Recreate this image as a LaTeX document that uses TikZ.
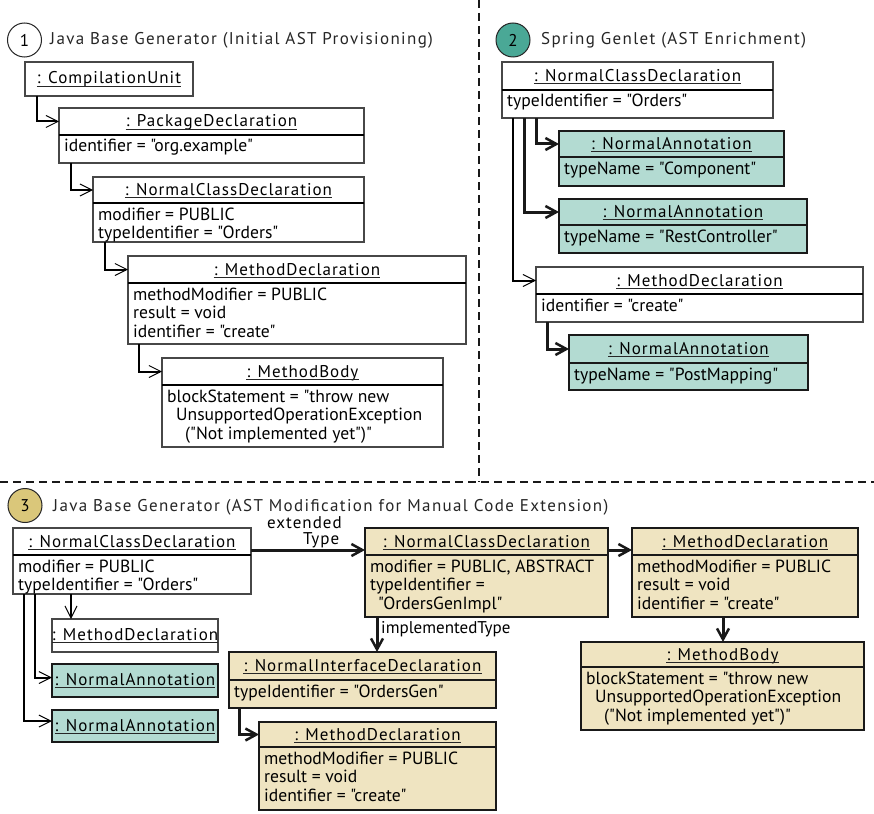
\documentclass[tikz,border=0pt]{standalone}
\usepackage{fontspec}
\setmainfont{PT Sans}[Ligatures=TeXOff]
\newfontfamily\hdrfont{PT Sans}[LetterSpace=6,Ligatures=TeXOff]
\newfontfamily\titlefont{PT Sans}[LetterSpace=8,Ligatures=TeXOff]
\usetikzlibrary{arrows.meta}
\definecolor{tealfill}{RGB}{179,219,210}
\definecolor{tanfill}{RGB}{239,228,193}
\definecolor{tealdark}{RGB}{74,168,150}
\definecolor{tandark}{RGB}{218,199,122}
\tikzset{
  objplain/.style={draw=black!72, line width=1.2pt, fill=white, inner sep=0pt, outer sep=0pt},
  objteal/.style={draw=black!90, line width=2pt, fill=tealfill, inner sep=0pt, outer sep=0pt},
  objtan/.style={draw=black!90, line width=2pt, fill=tanfill, inner sep=0pt, outer sep=0pt},
  sepobjplain/.style={line width=2pt, black},
  sepobjteal/.style={line width=2.5pt, black!90},
  sepobjtan/.style={line width=2.5pt, black!90},
  hdrtxt/.style={anchor=base, inner sep=0pt, font=\hdrfont\fontsize{17}{18.5}\selectfont},
  bodytxt/.style={anchor=base west, inner sep=0pt, font=\fontsize{17.6}{18.5}\selectfont},
  uline/.style={line width=0.9pt, black!85},
  titletxt/.style={anchor=base west, inner sep=0pt, font=\titlefont\fontsize{17}{18.5}\selectfont, black!85},
  lbltxt/.style={anchor=base west, inner sep=0pt, font=\fontsize{17}{18.5}\selectfont},
  numcircle/.style={circle, draw=black!85, line width=1pt, minimum size=34pt, inner sep=0pt, font=\fontsize{17}{18.5}\selectfont},
  medconn/.style={line width=2pt, black, -{Straight Barb[length=12pt,width=12pt,line width=1pt]}},
  thickconn/.style={line width=3pt, black!90, -{Straight Barb[length=11pt,width=12pt,line width=2.5pt]}},
  dashline/.style={line width=2pt, black!90, dash pattern=on 8pt off 5pt},
}
% name, style, x1, y1, x2, ysep, y2, header, body
\newcommand\umlbox[9]{%
  \node[#2, anchor=north west, minimum width={(#5-#3)*1pt}, minimum height={(#7-#4)*1pt}] (#1) at (#3,#4) {};
  \draw[sep#2] (#3,#6) -- (#5,#6);
  \coordinate (#1-h) at (#3,{(#4+#6)/2});
  \coordinate (#1-s) at (#3,#6);
  \coordinate (#1-se) at (#5,#6);
  \node[hdrtxt] (#1-t) at ({(#3+#5)/2},{(#4+#6)/2+5.5}) {#8\hspace{12pt}};
  \draw[uline] ([yshift=-2pt]#1-t.base west) -- ([yshift=-2pt]#1-t.base east);
  \node[bodytxt] (#1-b) at ({#3+5},{#6+17}) {\parbox[t]{300pt}{\fontsize{17.6}{18.5}\selectfont #9}};
}
% name, style, x1, y1, x2, y2, header
\newcommand\umlsingle[7]{%
  \node[#2, anchor=north west, minimum width={(#5-#3)*1pt}, minimum height={(#6-#4)*1pt}] (#1) at (#3,#4) {};
  \coordinate (#1-h) at (#3,{(#4+#6)/2});
  \node[hdrtxt] (#1-t) at ({(#3+#5)/2},{(#4+#6)/2+5}) {#7\hspace{12pt}};
  \draw[uline] ([yshift=-2pt]#1-t.base west) -- ([yshift=-2pt]#1-t.base east);
}
\begin{document}
\begin{tikzpicture}[x=1pt,y=-1pt]
\useasboundingbox[fill=white] (0,0) rectangle (874,813);
% separators
\draw[dashline] (479,0) -- (479,482);
\draw[dashline] (0,482) -- (874,482);

% ---------- Section 1 ----------
\node[numcircle, fill=white] (c1) at (24.5,40) {1};
\node[titletxt] (t1) at (50,45) {Java Base Generator (Initial AST Provisioning)};
\umlsingle{cu}{objplain}{25}{62}{193}{96}{: CompilationUnit}
\umlbox{pd}{objplain}{59}{108}{364}{135}{163}{: PackageDeclaration}{identifier = "org.example"}
\umlbox{ncda}{objplain}{93}{177}{364}{203}{242}{: NormalClassDeclaration}{modifier = PUBLIC\\typeIdentifier = "Orders"}
\umlbox{mda}{objplain}{128}{256}{466}{283}{344}{: MethodDeclaration}{methodModifier = PUBLIC\\result = void\\identifier = "create"}
\umlbox{mba}{objplain}{162}{358}{443}{385}{447}{: MethodBody}{blockStatement = "throw new\\\hspace*{9pt}UnsupportedOperationException\\\hspace*{18pt}("Not implemented yet")"}

\draw[medconn] ([xshift=12pt]cu.south west) |- (pd-h);
\draw[medconn] ([xshift=12pt]pd.south west) |- (ncda-h);
\draw[medconn] ([xshift=12pt]ncda.south west) |- (mda-h);
\draw[medconn] ([xshift=11pt]mda.south west) |- (mba-h);

% ---------- Section 2 ----------
\node[numcircle, fill=tealdark] (c2) at (513,40) {2};
\node[titletxt] (t2) at (541,45) {Spring Genlet (AST Enrichment)};
\umlbox{ncdb}{objplain}{502}{62}{773}{90}{118}{: NormalClassDeclaration}{typeIdentifier = "Orders"}
\umlbox{naa}{objteal}{559}{131}{784}{157}{186}{: NormalAnnotation}{typeName = "Component"}
\umlbox{nab}{objteal}{559}{199}{807}{225}{253}{: NormalAnnotation}{typeName = "RestController"}
\umlbox{mdb}{objplain}{536}{267}{863}{294}{322}{: MethodDeclaration}{identifier = "create"}
\umlbox{nac}{objteal}{569}{335}{808}{363}{390}{: NormalAnnotation}{typeName = "PostMapping"}

\draw[thickconn] ([xshift=34pt]ncdb.south west) |- (naa-h);
\draw[thickconn] ([xshift=22pt]ncdb.south west) |- (nab-h);
\draw[medconn] ([xshift=11pt]ncdb.south west) |- (mdb-h);
\draw[thickconn] ([xshift=11pt]mdb.south west) |- (nac-h);

% ---------- Section 3 ----------
\node[numcircle, fill=tandark] (c3) at (25,505.5) {3};
\node[titletxt] (t3) at (53,511) {Java Base Generator (AST Modification for Manual Code Extension)};
\umlbox{ncdc}{objplain}{13}{528}{251}{555}{594}{: NormalClassDeclaration}{modifier = PUBLIC\\typeIdentifier = "Orders"}
\umlsingle{mdc}{objplain}{52}{619}{218}{652}{: MethodDeclaration}
\umlsingle{nad}{objteal}{52}{664}{218}{697}{: NormalAnnotation}
\umlsingle{nae}{objteal}{52}{710}{218}{742}{: NormalAnnotation}
\umlbox{ncdd}{objtan}{365}{528}{608}{555}{617}{: NormalClassDeclaration}{modifier = PUBLIC, ABSTRACT\\typeIdentifier =\\\hspace*{8pt}"OrdersGenImpl"}
\umlbox{mdd}{objtan}{632}{528}{858}{555}{617}{: MethodDeclaration}{methodModifier = PUBLIC\\result = void\\identifier = "create"}
\umlbox{mbd}{objtan}{581}{642}{864}{667}{730}{: MethodBody}{blockStatement = "throw new\\\hspace*{9pt}UnsupportedOperationException\\\hspace*{18pt}("Not implemented yet")"}
\umlbox{nid}{objtan}{229}{652}{496}{680}{708}{: NormalInterfaceDeclaration}{typeIdentifier = "OrdersGen"}
\umlbox{mde}{objtan}{259}{722}{496}{747}{810}{: MethodDeclaration}{methodModifier = PUBLIC\\result = void\\identifier = "create"}

\draw[medconn] ([xshift=58pt]ncdc.south west) -- ([xshift=58pt]ncdc.south west |- mdc.north);
\draw[medconn] ([xshift=22pt]ncdc.south west) |- ([yshift=3pt]nad-h);
\draw[medconn] ([xshift=11pt]ncdc.south west) |- ([yshift=5pt]nae-h);
\draw[thickconn] ([yshift=5pt]ncdc-se) -- ([yshift=5pt]ncdd-s);
\draw[thickconn] ([yshift=5pt]ncdd-se) -- ([yshift=5pt]mdd-s);
\draw[thickconn] ([xshift=91pt]mdd.south west) -- ([xshift=91pt]mdd.south west |- mbd.north);
\draw[thickconn] ([xshift=12pt]ncdd.south west) -- ([xshift=12pt]ncdd.south west |- nid.north);
\draw[thickconn] ([xshift=10pt]nid.south west) |- (mde-h);

\node[lbltxt] (lext) at (267,528) {\hdrfont extended};
\node[lbltxt] (ltype) at (303,544) {\hdrfont Type};
\node[lbltxt] (limpl) at (381,633) {implementedType};
\end{tikzpicture}
\end{document}
